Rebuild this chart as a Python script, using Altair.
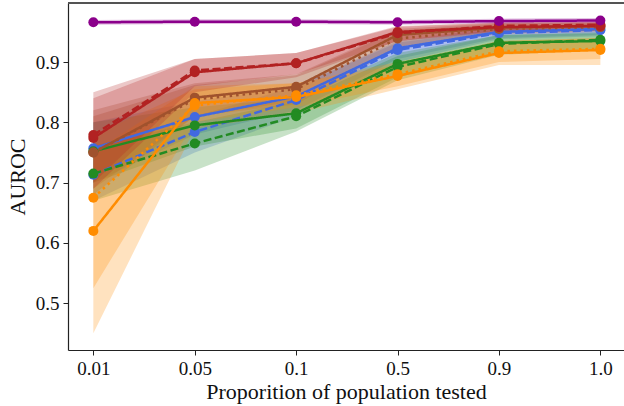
import altair as alt
import pandas as pd

x_labels = ["0.01", "0.05", "0.1", "0.5", "0.9", "1.0"]

series_names = ["blue_solid", "blue_dashed", "green_solid", "green_dashed",
                "brown_solid", "brown_dotted", "orange_solid", "orange_dotted",
                "red_solid", "red_dashed", "purple_solid"]
series_colors = {
    "blue_solid": "#4169E1", "blue_dashed": "#4169E1",
    "green_solid": "#228B22", "green_dashed": "#228B22",
    "brown_solid": "#A0522D", "brown_dotted": "#A0522D",
    "orange_solid": "#FF8C00", "orange_dotted": "#FF8C00",
    "red_solid": "#B22222", "red_dashed": "#B22222",
    "purple_solid": "#8B008B",
}
series_styles = {
    "blue_solid": "solid", "blue_dashed": "dashed",
    "green_solid": "solid", "green_dashed": "dashed",
    "brown_solid": "solid", "brown_dotted": "dotted",
    "orange_solid": "solid", "orange_dotted": "dotted",
    "red_solid": "solid", "red_dashed": "dashed",
    "purple_solid": "solid",
}

mean_vals = {
    "purple_solid": [0.966, 0.967, 0.967, 0.966, 0.968, 0.969],
    "red_solid":    [0.774, 0.883, 0.898, 0.950, 0.958, 0.960],
    "red_dashed":   [0.779, 0.886, 0.898, 0.948, 0.960, 0.962],
    "brown_solid":  [0.750, 0.841, 0.859, 0.945, 0.957, 0.960],
    "brown_dotted": [0.750, 0.838, 0.855, 0.939, 0.955, 0.958],
    "blue_solid":   [0.757, 0.809, 0.843, 0.923, 0.950, 0.955],
    "blue_dashed":  [0.713, 0.784, 0.837, 0.920, 0.948, 0.953],
    "green_solid":  [0.752, 0.795, 0.815, 0.897, 0.932, 0.935],
    "green_dashed": [0.715, 0.765, 0.810, 0.892, 0.930, 0.937],
    "orange_solid": [0.620, 0.832, 0.842, 0.877, 0.915, 0.920],
    "orange_dotted":[0.675, 0.828, 0.845, 0.880, 0.918, 0.922],
}
lower_vals = {
    "purple_solid": [0.962, 0.963, 0.963, 0.962, 0.964, 0.965],
    "red_solid":    [0.690, 0.850, 0.875, 0.935, 0.950, 0.952],
    "red_dashed":   [0.700, 0.860, 0.880, 0.935, 0.952, 0.955],
    "brown_solid":  [0.680, 0.810, 0.835, 0.925, 0.948, 0.952],
    "brown_dotted": [0.690, 0.810, 0.830, 0.922, 0.946, 0.950],
    "blue_solid":   [0.700, 0.780, 0.820, 0.905, 0.940, 0.945],
    "blue_dashed":  [0.670, 0.750, 0.810, 0.900, 0.938, 0.943],
    "green_solid":  [0.700, 0.760, 0.790, 0.875, 0.915, 0.920],
    "green_dashed": [0.670, 0.720, 0.785, 0.870, 0.912, 0.920],
    "orange_solid": [0.450, 0.790, 0.815, 0.855, 0.895, 0.895],
    "orange_dotted":[0.525, 0.800, 0.825, 0.860, 0.900, 0.905],
}
upper_vals = {
    "purple_solid": [0.970, 0.971, 0.971, 0.970, 0.972, 0.973],
    "red_solid":    [0.850, 0.905, 0.915, 0.960, 0.965, 0.966],
    "red_dashed":   [0.840, 0.905, 0.915, 0.958, 0.966, 0.968],
    "brown_solid":  [0.820, 0.865, 0.880, 0.955, 0.965, 0.966],
    "brown_dotted": [0.810, 0.862, 0.878, 0.952, 0.963, 0.965],
    "blue_solid":   [0.800, 0.835, 0.860, 0.935, 0.958, 0.962],
    "blue_dashed":  [0.760, 0.810, 0.860, 0.932, 0.955, 0.960],
    "green_solid":  [0.800, 0.825, 0.840, 0.915, 0.945, 0.948],
    "green_dashed": [0.760, 0.800, 0.835, 0.910, 0.945, 0.950],
    "orange_solid": [0.750, 0.860, 0.865, 0.895, 0.935, 0.940],
    "orange_dotted":[0.780, 0.855, 0.865, 0.900, 0.935, 0.940],
}

rows = []
for order, s in enumerate(series_names):
    for i, lab in enumerate(x_labels):
        rows.append({
            "series": s, "order": order, "xi": i, "label": lab,
            "v": mean_vals[s][i], "lo": lower_vals[s][i], "hi": upper_vals[s][i],
            "color": series_colors[s], "style": series_styles[s],
        })
df = pd.DataFrame(rows)

label_expr = "[" + ",".join("'%s'" % l for l in x_labels) + "][datum.value]"

W, H = 556, 347

x_enc = alt.X("xi:Q", scale=alt.Scale(domain=[-0.25, 5.233], nice=False, zero=False),
              axis=alt.Axis(values=list(range(len(x_labels))), labelExpr=label_expr,
                            title="Proporition of population tested", grid=False,
                            titlePadding=3))
y_scale = alt.Scale(domain=[0.4224, 0.998], nice=False, zero=False)
y_axis = alt.Axis(values=[0.5, 0.6, 0.7, 0.8, 0.9], format=".1f", title="AUROC",
                  grid=False, titlePadding=6)

base = alt.Chart(df)

bands = base.mark_area(opacity=0.25, interpolate="linear").encode(
    x=x_enc,
    y=alt.Y("lo:Q", scale=y_scale, axis=y_axis),
    y2="hi:Q",
    color=alt.Color("color:N", scale=None),
    detail="series:N",
    order="order:Q",
)

lines = base.mark_line(strokeWidth=2.5).encode(
    x=x_enc,
    y=alt.Y("v:Q", scale=y_scale, axis=y_axis),
    color=alt.Color("color:N", scale=None),
    detail="series:N",
    strokeDash=alt.StrokeDash("style:N", scale=alt.Scale(
        domain=["solid", "dashed", "dotted"], range=[[1, 0], [8, 3.5], [2.5, 4]]), legend=None),
)

points = base.mark_circle(size=100, opacity=1).encode(
    x=x_enc,
    y=alt.Y("v:Q", scale=y_scale, axis=y_axis),
    color=alt.Color("color:N", scale=None),
    order="order:Q",
)

top_spine = alt.Chart(df).mark_rule(color="#555555", strokeWidth=1.5).encode(
    x=alt.value(0), x2=alt.value(W), y=alt.value(0)
)

chart = alt.layer(bands, lines, points, top_spine).properties(
    width=W, height=H,
    background="white",
    autosize=alt.AutoSizeParams(type="none"),
    padding={"left": 68, "top": 3, "right": 0, "bottom": 56},
).configure_view(
    stroke=None
).configure_axis(
    labelFont="Liberation Serif", titleFont="Liberation Serif",
    labelFontSize=19, titleFontSize=22, titleFontWeight="normal",
    labelColor="#111111", titleColor="#111111",
    domainColor="#222222", tickColor="#222222", tickSize=5, domainWidth=1.2,
    labelPadding=4,
)

chart.save("out.html", embed_options={"renderer": "svg", "actions": False})
